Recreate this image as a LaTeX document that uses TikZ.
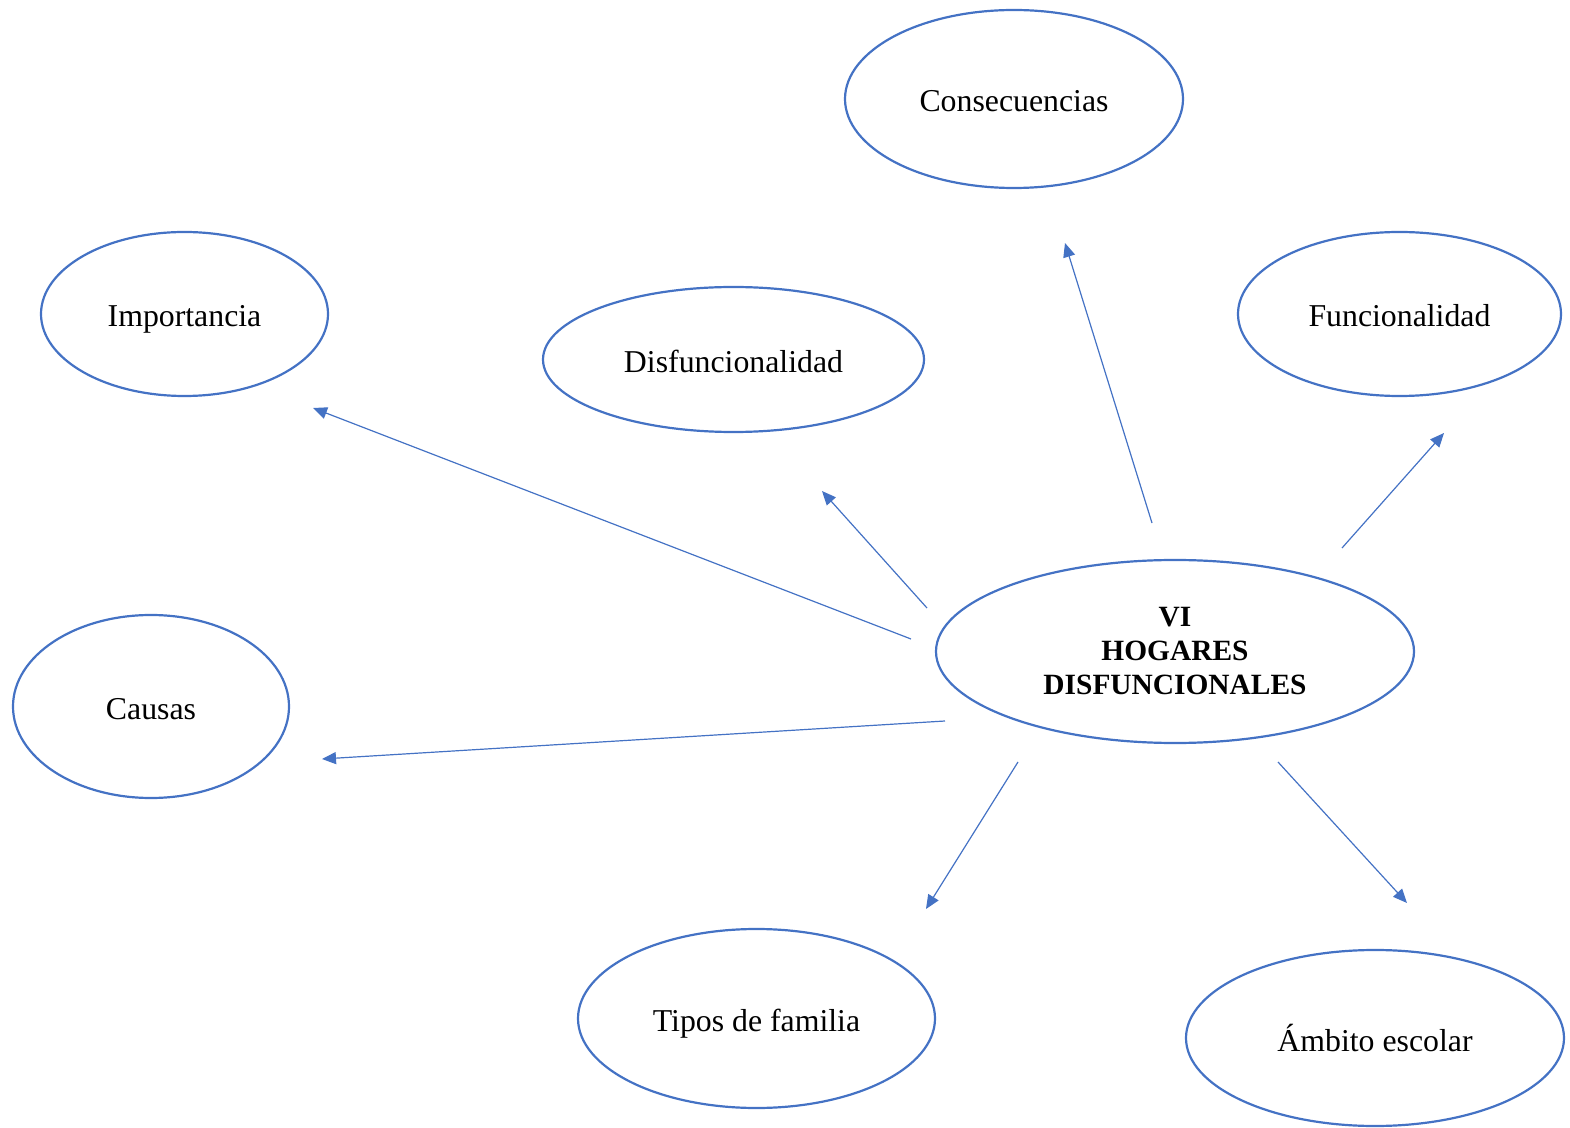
\documentclass[tikz,border=0pt]{standalone}
\usepackage{fontspec}
\setmainfont{Liberation Serif}
\usetikzlibrary{arrows.meta,shapes.geometric}
\definecolor{oblue}{HTML}{4472C4}
\begin{document}
\begin{tikzpicture}[x=0.5pt,y=-0.5pt,
  shell/.style={draw=oblue,line width=1.1pt,ellipse,inner sep=0pt},
  topic/.style={shell,font=\fontsize{15.9}{17}\selectfont,text height=13pt,text depth=0pt},
  core/.style={shell,font=\fontsize{14.7}{17}\bfseries,align=center},
  link/.style={draw=oblue,line width=0.6pt,-{Triangle[length=7pt,width=6pt]}}]
\useasboundingbox (0,0) rectangle (1570,1128);
\node[topic,minimum width=169pt,minimum height=89pt] (cons) at (1014,99) {Consecuencias};
\node[topic,minimum width=143.5pt,minimum height=82pt] (imp) at (184.5,314) {Importancia};
\node[topic,minimum width=190.5pt,minimum height=72.5pt] (disf) at (733.5,359.5) {Disfuncionalidad};
\node[topic,minimum width=161.5pt,minimum height=82pt] (func) at (1399.5,314) {Funcionalidad};
\node[topic,minimum width=138pt,minimum height=91.5pt] (caus) at (151,706.5) {Causas};
\node[core,minimum width=239pt,minimum height=91.5pt] (hog) at (1175,651.5) {VI\\HOGARES\\DISFUNCIONALES};
\node[topic,minimum width=178.5pt,minimum height=89.5pt] (tipos) at (756.5,1018.5) {Tipos de familia};
\node[topic,minimum width=189pt,minimum height=88pt] (amb) at (1375,1038) {Ámbito escolar};
% connector end points
\coordinate (s1) at (1152,523); \coordinate (e1) at (1065,243);
\coordinate (s2) at (1342,548); \coordinate (e2) at (1444,433);
\coordinate (s3) at (927,608);  \coordinate (e3) at (822,491);
\coordinate (s4) at (911,639);  \coordinate (e4) at (313,408);
\coordinate (s5) at (945,721);  \coordinate (e5) at (322,759);
\coordinate (s6) at (1018,762); \coordinate (e6) at (926,909);
\coordinate (s7) at (1278,762); \coordinate (e7) at (1407,903);
\draw[link] (s1) -- (e1);
\draw[link] (s2) -- (e2);
\draw[link] (s3) -- (e3);
\draw[link] (s4) -- (e4);
\draw[link] (s5) -- (e5);
\draw[link] (s6) -- (e6);
\draw[link] (s7) -- (e7);
\end{tikzpicture}
\end{document}
